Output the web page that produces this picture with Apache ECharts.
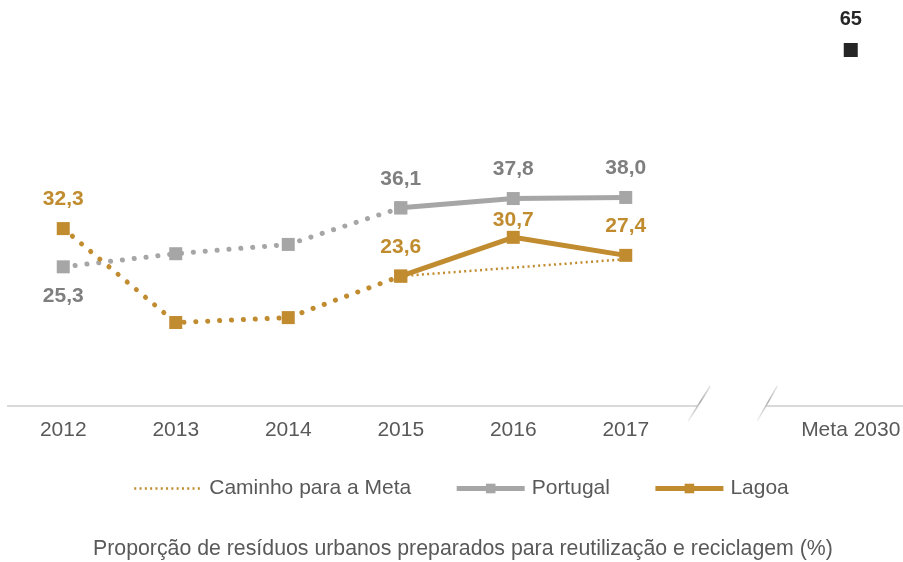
<!DOCTYPE html>
<html><head><meta charset="utf-8">
<script src="https://cdn.jsdelivr.net/npm/echarts@6/dist/echarts.min.js"></script>
<style>html,body{margin:0;padding:0;background:#fff}#c{width:903px;height:562px}</style>
</head><body><div id="c"></div>
<script>
// ---- data ----
const categories = ['2012', '2013', '2014', '2015', '2016', '2017', '', 'Meta 2030'];
const portugal = [25.3, 27.7, 29.4, 36.1, 37.8, 38.0, null, null];
const lagoa = [32.3, 15.1, 16.0, 23.6, 30.7, 27.4, null, null];
const caminho = [null, null, null, 23.6, null, 26.7, null, null];
const meta = [null, null, null, null, null, null, null, 65];
const labelledIdx = [0, 3, 4, 5];
const solidStart = 3, lastYear = 5;
const legendNames = ['Caminho para a Meta', 'Portugal', 'Lagoa'];
const caption = 'Proporção de resíduos urbanos preparados para reutilização e reciclagem (%)';

// ---- style ----
const GOLD = '#c18b2f', GRAY = '#a6a6a6', GRAYTXT = '#7f7f7f', TXT = '#595959', DARK = '#262626';
const FONT = '"Liberation Sans", Arial, sans-serif';
const fmt = v => v.toFixed(1).replace('.', ',');

function part(arr, from, to, color, lblOpts) {
  return arr.map((v, i) => {
    if (v == null || i < from || i > to) return null;
    const show = labelledIdx.includes(i) && lblOpts.filter(i);
    return {
      value: v,
      label: {
        show: show,
        position: (lblOpts.pos && lblOpts.pos[i]) || 'top',
        distance: (lblOpts.dist && lblOpts.dist[i] != null) ? lblOpts.dist[i] : 12,
        formatter: p => fmt(p.value),
        color: color, fontSize: 21, fontWeight: 'bold', fontFamily: FONT
      }
    };
  });
}

const chart = echarts.init(document.getElementById('c'), null, { renderer: 'canvas' });

const dotted = (color) => ({ color: color, width: 5, type: [0.1, 11.8], cap: 'round' });

const option = {
  animation: false,
  textStyle: { fontFamily: FONT },
  title: {
    text: caption, left: 93, top: 539, padding: 0,
    textStyle: { fontSize: 21.3, fontWeight: 'normal', color: TXT, fontFamily: FONT }
  },
  legend: {
    data: [
      { name: legendNames[0], itemStyle: { color: 'rgba(0,0,0,0)', borderWidth: 0 }, lineStyle: { width: 2.5 } },
      { name: legendNames[1], lineStyle: { width: 5 } },
      { name: legendNames[2], lineStyle: { width: 5 } }
    ],
    left: 133, top: 478, padding: 0,
    itemWidth: 68, itemHeight: 12, itemGap: 43,
    textStyle: { fontSize: 21, color: TXT, fontFamily: FONT, padding: [0, 0, 0, 2] }
  },
  grid: { left: 7, top: 50, width: 900, bottom: 157, outerBoundsMode: 'none', containLabel: false },
  xAxis: {
    type: 'category', data: categories, boundaryGap: true,
    axisLine: { show: false }, axisTick: { show: false },
    axisLabel: { interval: 0, fontSize: 21, color: TXT, margin: 15, fontFamily: FONT }
  },
  yAxis: { type: 'value', min: 0, max: 65, show: false, splitLine: { show: false } },
  series: [
    {
      name: 'Caminho para a Meta', type: 'line', data: caminho, connectNulls: true,
      symbol: 'none', z: 2,
      lineStyle: { color: GOLD, width: 2.5, type: [2, 3.3] },
      itemStyle: { color: GOLD }
    },
    {
      name: 'Portugal', type: 'line', z: 3,
      data: part(portugal, solidStart, lastYear, GRAYTXT, { filter: () => true }),
      symbol: 'rect', symbolSize: 13,
      lineStyle: { color: GRAY, width: 5 }, itemStyle: { color: GRAY }
    },
    {
      name: 'Lagoa', type: 'line', z: 4,
      data: part(lagoa, solidStart, lastYear, GOLD, { filter: () => true, dist: { 4: 0 } }),
      symbol: 'rect', symbolSize: 13,
      lineStyle: { color: GOLD, width: 5 }, itemStyle: { color: GOLD }
    },
    {
      name: 'Portugal', type: 'line', z: 3,
      data: part(portugal, 0, solidStart, GRAYTXT, { filter: i => i < solidStart, pos: { 0: 'bottom' } }),
      symbol: 'rect', symbolSize: 13,
      lineStyle: dotted(GRAY), itemStyle: { color: GRAY }
    },
    {
      name: 'Lagoa', type: 'line', z: 4,
      data: part(lagoa, 0, solidStart, GOLD, { filter: i => i < solidStart }),
      symbol: 'rect', symbolSize: 13,
      lineStyle: dotted(GOLD), itemStyle: { color: GOLD }
    },
    {
      name: 'Meta', type: 'line', data: meta, z: 5,
      symbol: 'rect', symbolSize: 14,
      itemStyle: { color: DARK },
      label: {
        show: true, position: 'top', distance: 14, color: DARK,
        fontSize: 20, fontWeight: 'bold', fontFamily: FONT
      }
    }
  ]
};
chart.setOption(option);

// axis line with break, positioned from the axis scales
const p0 = chart.convertToPixel({ xAxisIndex: 0 }, 0);
const p1 = chart.convertToPixel({ xAxisIndex: 0 }, 1);
const band = p1 - p0;
const gridLeft = p0 - band / 2;
const ay = chart.convertToPixel({ yAxisIndex: 0 }, 0) + 1;
const cx = chart.convertToPixel({ xAxisIndex: 0 }, 6) - 5;
const W = chart.getWidth();
const slashGrad = {
  type: 'linear', x: 0, y: 0, x2: 0, y2: 1,
  colorStops: [
    { offset: 0, color: 'rgba(190,190,190,0.25)' },
    { offset: 0.45, color: 'rgba(170,170,170,1)' },
    { offset: 1, color: 'rgba(200,200,200,0.15)' }
  ]
};
chart.setOption({
  graphic: [
    { type: 'line', silent: true, shape: { x1: gridLeft, y1: ay, x2: cx - 36, y2: ay }, style: { stroke: '#d9d9d9', lineWidth: 2 } },
    { type: 'line', silent: true, shape: { x1: cx + 33, y1: ay, x2: W, y2: ay }, style: { stroke: '#d9d9d9', lineWidth: 2 } },
    { type: 'line', silent: true, shape: { x1: cx - 45, y1: ay + 15, x2: cx - 23, y2: ay - 20 }, style: { stroke: slashGrad, lineWidth: 1.5 } },
    { type: 'line', silent: true, shape: { x1: cx + 24, y1: ay + 15, x2: cx + 44, y2: ay - 20 }, style: { stroke: slashGrad, lineWidth: 1.5 } }
  ]
});
</script>
</body></html>
